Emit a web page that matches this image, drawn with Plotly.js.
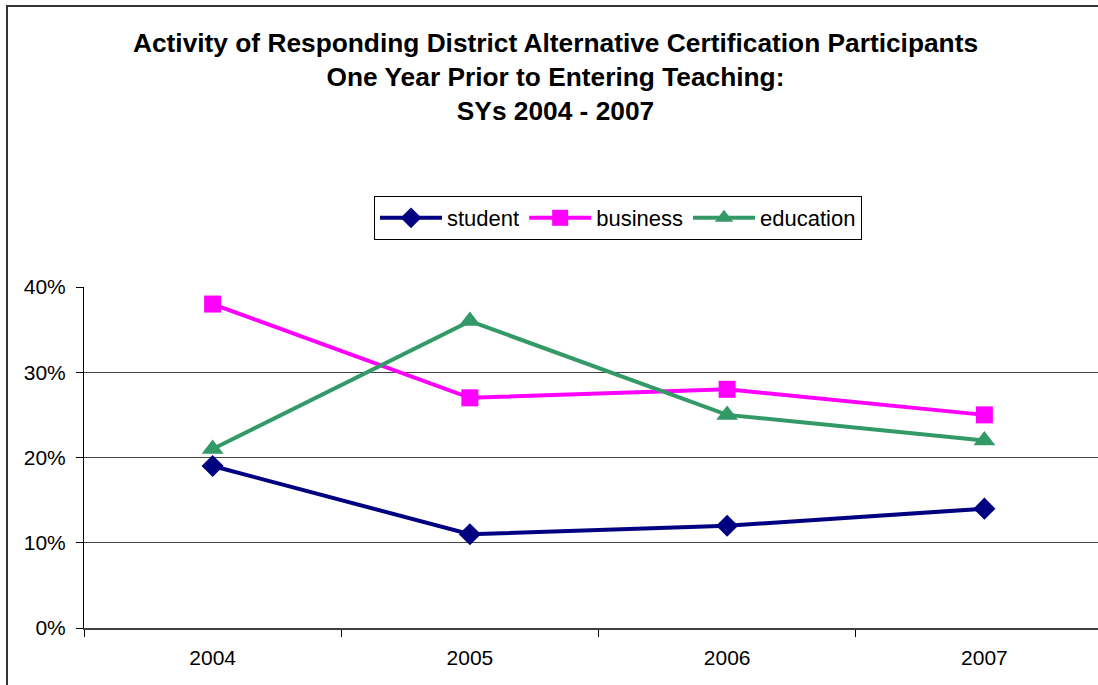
<!DOCTYPE html>
<html>
<head>
<meta charset="utf-8">
<script src="https://cdn.plot.ly/plotly-3.0.1.min.js"></script>
<style>
html,body{margin:0;padding:0;width:1098px;height:685px;overflow:hidden;background:#fff;}
#chart{position:absolute;left:0;top:0;width:1140px;height:700px;}
#frame{position:absolute;left:6px;top:5px;width:2000px;height:2000px;border:2px solid #333;pointer-events:none;}
</style>
</head>
<body>
<div id="chart"></div>
<div id="frame"></div>
<script>
const years = ['2004', '2005', '2006', '2007'];
const student = [0.19, 0.11, 0.12, 0.14];
const business = [0.38, 0.27, 0.28, 0.25];
const education = [0.21, 0.36, 0.25, 0.22];
const yTicks = [0, 0.1, 0.2, 0.3, 0.4];
const yTickText = ['0%', '10%', '20%', '30%', '40%'];
const titleText = 'Activity of Responding District Alternative Certification Participants<br>One Year Prior to Entering Teaching:<br>SYs 2004 - 2007';

const font = 'Liberation Sans, Arial, sans-serif';

const traces = [
  {x: years, y: student, name: 'student', type: 'scatter', mode: 'lines+markers',
   line: {color: '#000080', width: 4}, marker: {symbol: 'diamond', size: 17, color: '#000080'}},
  {x: years, y: business, name: 'business', type: 'scatter', mode: 'lines+markers',
   line: {color: '#FF00FF', width: 4}, marker: {symbol: 'square', size: 17, color: '#FF00FF'}},
  {x: years, y: education, name: 'education', type: 'scatter', mode: 'lines+markers',
   line: {color: '#339966', width: 4}, marker: {symbol: 'triangle-up', size: 19, color: '#339966'}}
];

const layout = {
  width: 1140, height: 700,
  margin: {l: 84, r: 27, t: 287, b: 72},
  paper_bgcolor: '#fff', plot_bgcolor: '#fff',
  font: {family: font, size: 21, color: '#000'},
  showlegend: true,
  title: {text: titleText, font: {family: font, size: 26.3, color: '#000', weight: 'bold'},
          xref: 'container', x: 555.5/1140, xanchor: 'center',
          yref: 'container', y: 1 - 52/700, yanchor: 'top'},
  legend: {orientation: 'h', x: (374-84)/1029, xanchor: 'left', y: 1 + 91/341, yanchor: 'top',
           bordercolor: '#000', borderwidth: 1, bgcolor: '#fff', itemwidth: 62,
           font: {family: font, size: 22, color: '#000'}},
  xaxis: {type: 'category', range: [-0.5, 3.5], tickson: 'boundaries', ticks: 'outside', ticklen: 7,
          tickcolor: '#000', tickwidth: 1, showgrid: false, showline: true, linecolor: '#404040', linewidth: 2,
          ticklabelstandoff: 10, tickfont: {family: font, size: 21, color: '#000'}, fixedrange: true},
  yaxis: {range: [0, 0.4], tickvals: yTicks, ticktext: yTickText, ticks: 'outside', ticklen: 7,
          tickcolor: '#000', showline: true, linecolor: '#000', linewidth: 1,
          showgrid: true, gridcolor: '#444', gridwidth: 1, zeroline: false,
          ticklabelstandoff: 6, tickfont: {family: font, size: 21, color: '#000'}, fixedrange: true}
};

Plotly.newPlot('chart', traces, layout, {displayModeBar: false, staticPlot: true});
</script>
</body>
</html>
